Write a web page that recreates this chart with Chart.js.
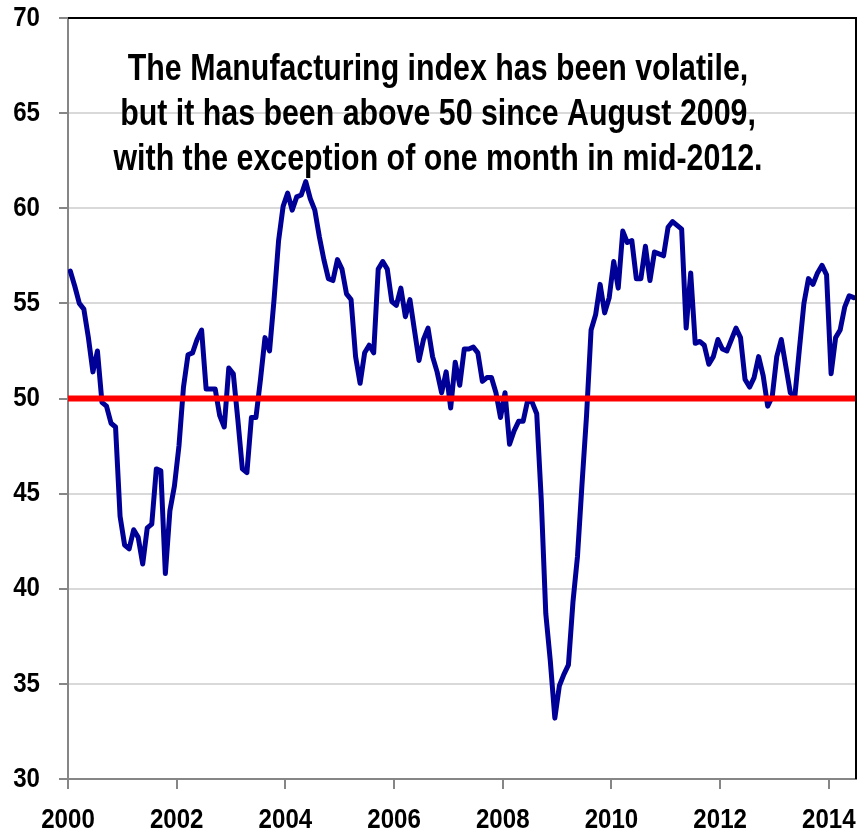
<!DOCTYPE html>
<html><head><meta charset="utf-8">
<script src="https://cdn.jsdelivr.net/npm/chart.js@4.4.1/dist/chart.umd.min.js"></script>
<style>html,body{margin:0;padding:0;background:#fff;}#wrap{width:863px;height:833px;position:relative;}</style>
</head><body><div id="wrap"><canvas id="c" width="863" height="833"></canvas></div>
<script>
// ---- data ----
const startYear = 2000;
const pmiValues = [
  56.7, 55.9, 55.0, 54.7, 53.2, 51.4, 52.5, 49.8, 49.6, 48.7, 48.5, 43.8,
  42.3, 42.1, 43.1, 42.7, 41.3, 43.2, 43.4, 46.3, 46.2, 40.8, 44.1, 45.4,
  47.5, 50.6, 52.3, 52.4, 53.1, 53.6, 50.5, 50.5, 50.5, 49.1, 48.5, 51.6,
  51.3, 48.9, 46.3, 46.1, 49.0, 49.0, 51.0, 53.2, 52.5, 55.2, 58.3, 60.1,
  60.8, 59.9, 60.6, 60.7, 61.4, 60.5, 59.9, 58.5, 57.3, 56.3, 56.2, 57.3,
  56.8, 55.5, 55.2, 52.2, 50.8, 52.4, 52.8, 52.4, 56.8, 57.2, 56.8, 55.1,
  54.9, 55.8, 54.3, 55.2, 53.6, 52.0, 53.1, 53.7, 52.2, 51.4, 50.3, 51.4,
  49.5, 51.9, 50.7, 52.6, 52.6, 52.7, 52.4, 50.9, 51.1, 51.1, 50.3, 49.0,
  50.3, 47.6, 48.3, 48.8, 48.8, 49.9, 49.8, 49.2, 44.7, 38.7, 36.2, 33.2,
  34.9, 35.5, 36.0, 39.3, 41.7, 45.5, 49.1, 53.6, 54.4, 56.0, 54.5, 55.3,
  57.2, 55.8, 58.8, 58.2, 58.3, 56.3, 56.3, 58.0, 56.2, 57.7, 57.6, 57.5,
  59.0, 59.3, 59.1, 58.9, 53.7, 56.6, 52.9, 53.0, 52.8, 51.8, 52.2, 53.1,
  52.6, 52.5, 53.1, 53.7, 53.2, 51.0, 50.6, 51.1, 52.2, 51.2, 49.6, 50.1,
  52.2, 53.1, 51.7, 50.3, 50.1, 52.6, 55.0, 56.3, 56.0, 56.6, 57.0, 56.5,
  51.3, 53.2, 53.6, 54.8, 55.4, 55.3
];
const thresholdValue = 50;
const xRange = [2000, 2014.5];
const xTickStep = 2;
const yRange = [30, 70];
const yTickStep = 5;
const titleLines = [
  "The Manufacturing index has been volatile,",
  "but it has been above 50 since August 2009,",
  "with the exception of one month in mid-2012."
];

// ---- rendering helpers: condensed (Arial Narrow-like) text ----
const FONT = '"Liberation Sans", Arial, sans-serif';
const canvas = document.getElementById('c');
const ctx2d = canvas.getContext('2d');
const origFillText = ctx2d.fillText;
ctx2d.fillText = function (text, x, y, maxWidth) {
  const k = this.__hScale || 1;
  if (k === 1) return origFillText.call(this, text, x, y, maxWidth);
  this.save();
  this.translate(x, y);
  this.scale(k, 1);
  origFillText.call(this, text, 0, 0);
  this.restore();
};

const pmiPoints = pmiValues.map((v, i) => ({ x: startYear + (i + 0.5) / 12, y: v }));
const thresholdPoints = xRange.map(x => ({ x: x, y: thresholdValue }));

const framePlugin = {
  id: 'frame',
  beforeDraw(chart) { chart.ctx.__hScale = 0.86; },
  afterDatasetsDraw(chart) {
    const { ctx, chartArea: a } = chart;
    ctx.save();
    ctx.strokeStyle = '#000';
    ctx.lineWidth = 2;
    ctx.beginPath();
    ctx.moveTo(a.left, a.top);
    ctx.lineTo(a.right, a.top);
    ctx.lineTo(a.right, a.bottom);
    ctx.stroke();
    ctx.restore();
  },
  afterDraw(chart) {
    const { ctx } = chart;
    ctx.save();
    ctx.__hScale = 0.82;
    ctx.font = 'bold 37px ' + FONT;
    ctx.fillStyle = '#000';
    ctx.textAlign = 'center';
    ctx.textBaseline = 'alphabetic';
    titleLines.forEach((t, k) => ctx.fillText(t, 438, 80 + k * 45));
    ctx.restore();
    ctx.__hScale = 1;
  }
};

new Chart(canvas, {
  type: 'line',
  data: {
    datasets: [
      { label: 'PMI', data: pmiPoints, borderColor: '#000096', borderWidth: 5, pointRadius: 0,
        borderJoinStyle: 'round', borderCapStyle: 'round', tension: 0, order: 1 },
      { label: '50', data: thresholdPoints, borderColor: '#ff0000', borderWidth: 6, pointRadius: 0, order: 0 }
    ]
  },
  options: {
    responsive: false,
    animation: false,
    events: [],
    layout: { padding: { top: 18, right: 7, left: 0, bottom: 0 } },
    plugins: { legend: { display: false }, tooltip: { enabled: false }, title: { display: false } },
    scales: {
      x: {
        type: 'linear', min: xRange[0], max: xRange[1],
        afterFit(s) { s.height = 54; s.paddingLeft = 0; s.paddingRight = 0; },
        border: { color: '#868686', width: 2 },
        grid: { drawOnChartArea: false, drawTicks: true, tickLength: 10, color: '#868686', lineWidth: 2 },
        ticks: { stepSize: xTickStep, includeBounds: false, maxRotation: 0, minRotation: 0, autoSkip: false, padding: 14,
          color: '#000', font: { family: FONT, size: 28, weight: 'bold' },
          callback: v => String(v) }
      },
      y: {
        min: yRange[0], max: yRange[1],
        afterFit(s) { s.width = 68; s.paddingTop = 0; s.paddingBottom = 0; },
        border: { color: '#868686', width: 2 },
        grid: { color: '#d9d9d9', lineWidth: 2, tickLength: 9, tickColor: '#868686', tickWidth: 2 },
        ticks: { stepSize: yTickStep, padding: 19, color: '#000', font: { family: FONT, size: 28, weight: 'bold' } }
      }
    }
  },
  plugins: [framePlugin]
});
</script></body></html>
